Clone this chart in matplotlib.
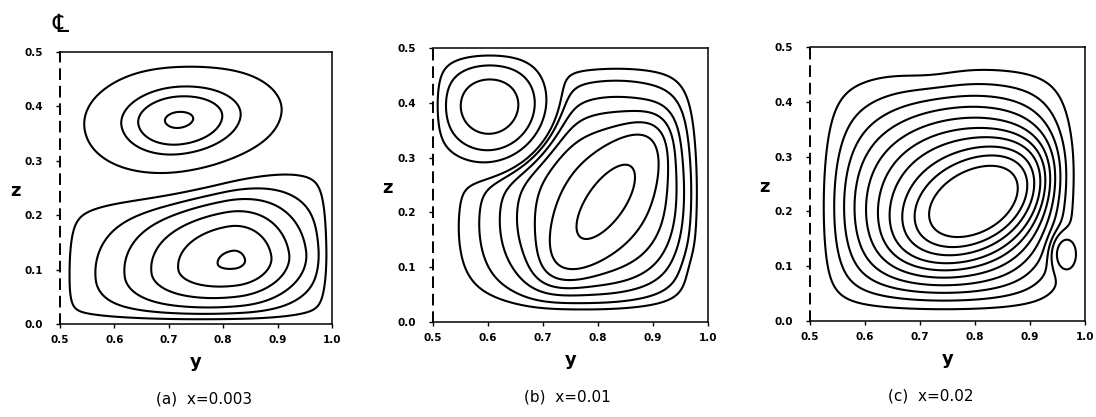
import numpy as np
import matplotlib
matplotlib.use("Agg")
import matplotlib.pyplot as plt

# ---------------- data ----------------
y_ticks = [0.5, 0.6, 0.7, 0.8, 0.9, 1.0]
z_ticks = [0.0, 0.1, 0.2, 0.3, 0.4, 0.5]
captions = ["(a)  x=0.003", "(b)  x=0.01", "(c)  x=0.02"]

# Panel (a): vortex cells (centre, strength, orientation, spreads, profile power)
a_yc = [0.72, 0.82]
a_zc = [0.372, 0.115]
a_amp = [1.0, -1.0]
a_ang = [5.0, 8.0]
a_sa_lo = [0.155, 0.21]
a_sa_hi = [0.17, 0.14]
a_sb_lo = [0.105, 0.09]
a_sb_hi = [0.09, 0.14]
a_pow = [2.0, 1.5]
a_wall = [0.02, 0.02, 0.02, 0.02]          # left, right, bottom, top
# streamlines: where each drawn contour crosses a probe line
a_ring_y = [0.693, 0.644, 0.613, 0.545, 0.79, 0.718, 0.669, 0.62, 0.567, 0.518]
a_ring_z = [0.375, 0.375, 0.375, 0.375, 0.115, 0.115, 0.115, 0.115, 0.115, 0.115]

# Panel (b)
b_yc = [0.815, 0.815, 0.605, 0.99]
b_zc = [0.22, 0.22, 0.395, 0.09]
b_amp = [1.0, 1.0, -3.0, -0.1]
b_ang = [55.0, 55.0, 0.0, 0.0]
b_sa_lo = [0.12, 0.24, 0.085, 0.03]
b_sa_hi = [0.12, 0.22, 0.085, 0.03]
b_sb_lo = [0.045, 0.20, 0.085, 0.04]
b_sb_hi = [0.045, 0.20, 0.085, 0.04]
b_pow = [2.0, 2.0, 2.6, 2.0]
b_wall = [0.02, 0.05, 0.05, 0.04]
b_ring_y = [0.655, 0.685, 0.706, 0.766, 0.72, 0.686, 0.653, 0.622, 0.585, 0.548]
b_ring_z = [0.40, 0.40, 0.40, 0.20, 0.20, 0.20, 0.20, 0.20, 0.20, 0.20]

# Panel (c)
c_yc = [0.815, 0.78, 0.968, 0.72, 0.75]
c_zc = [0.22, 0.23, 0.123, 0.48, 0.25]
c_amp = [0.8, 1.0, -1.6, -0.1, 0.2]
c_ang = [30.0, 15.0, 0.0, 0.0, 0.0]
c_sa_lo = [0.13, 0.24, 0.022, 0.06, 0.42]
c_sa_hi = [0.13, 0.24, 0.022, 0.06, 0.42]
c_sb_lo = [0.07, 0.19, 0.032, 0.05, 0.35]
c_sb_hi = [0.07, 0.19, 0.032, 0.05, 0.35]
c_pow = [2.0, 2.0, 2.0, 2.0, 4.0]
c_wall = [0.06, 0.08, 0.05, 0.08]
c_ring_y = [0.719, 0.693, 0.670, 0.646, 0.624, 0.602, 0.581, 0.562, 0.544, 0.525, 0.949]
c_ring_z = [0.21, 0.21, 0.21, 0.21, 0.21, 0.21, 0.21, 0.21, 0.21, 0.21, 0.123]


def stream(Y, Z, yc, zc, amp, ang, sa_lo, sa_hi, sb_lo, sb_hi, pw, wall):
    Y = np.asarray(Y, float)
    Z = np.asarray(Z, float)
    psi = np.zeros(np.broadcast(Y, Z).shape)
    for i in range(len(yc)):
        t = np.radians(ang[i])
        dy, dz = Y - yc[i], Z - zc[i]
        xi = dy * np.cos(t) + dz * np.sin(t)
        eta = -dy * np.sin(t) + dz * np.cos(t)
        sa = np.where(xi < 0, sa_lo[i], sa_hi[i])
        sb = np.where(eta < 0, sb_lo[i], sb_hi[i])
        r2 = (xi / sa) ** 2 + (eta / sb) ** 2
        psi = psi + amp[i] * np.exp(-r2 ** (pw[i] / 2.0))
    w = (np.tanh((Y - 0.5) / wall[0]) * np.tanh((1.0 - Y) / wall[1])
         * np.tanh(Z / wall[2]) * np.tanh((0.5 - Z) / wall[3]))
    return psi * w


panels = [
    (a_yc, a_zc, a_amp, a_ang, a_sa_lo, a_sa_hi, a_sb_lo, a_sb_hi, a_pow, a_wall, a_ring_y, a_ring_z),
    (b_yc, b_zc, b_amp, b_ang, b_sa_lo, b_sa_hi, b_sb_lo, b_sb_hi, b_pow, b_wall, b_ring_y, b_ring_z),
    (c_yc, c_zc, c_amp, c_ang, c_sa_lo, c_sa_hi, c_sb_lo, c_sb_hi, c_pow, c_wall, c_ring_y, c_ring_z),
]

W, H = 1096, 417
fig = plt.figure(figsize=(W / 100, H / 100), dpi=100)
boxes = [(60, 52, 272, 272), (433, 48, 275, 274), (810, 47, 275, 274)]

gy = np.linspace(0.5, 1.0, 601)
gz = np.linspace(0.0, 0.5, 601)
GY, GZ = np.meshgrid(gy, gz)

tick_font = dict(family=["Liberation Sans Narrow", "DejaVu Sans"], weight="bold", size=7.5)

for k, (p, box) in enumerate(zip(panels, boxes)):
    x0, y0, w, h = box
    ax = fig.add_axes([x0 / W, 1 - (y0 + h) / H, w / W, h / H])
    params = p[:10]
    psi = stream(GY, GZ, *params)
    lev = stream(np.array(p[10]), np.array(p[11]), *params)
    lev = np.unique(np.round(lev, 7))
    ax.contour(GY, GZ, psi, levels=lev, colors="k", linewidths=1.5, linestyles="solid")
    ax.set_xlim(0.5, 1.0)
    ax.set_ylim(0.0, 0.5)
    ax.set_xticks(y_ticks)
    ax.set_yticks(z_ticks)
    ax.set_xticklabels([f"{v:.1f}" for v in y_ticks], fontdict=tick_font)
    ax.set_yticklabels([f"{v:.1f}" for v in z_ticks], fontdict=tick_font)
    ax.tick_params(direction="out", length=3, width=1.0, colors="k")
    ax.tick_params(axis="x", pad=5)
    ax.tick_params(axis="y", pad=9)
    for s in ["top", "right", "bottom"]:
        ax.spines[s].set_linewidth(1.1)
    ax.spines["left"].set_linewidth(1.4)
    ax.spines["left"].set_linestyle((0, (5, 4)))
    ax.text(-0.165, 0.49, "z", transform=ax.transAxes, fontsize=13, fontweight="bold",
            ha="center", va="center")
    ax.text(0.5, -0.14, "y", transform=ax.transAxes, fontsize=13, fontweight="bold",
            ha="center", va="center")
    ax.text(0.5 + (0.03 if k == 0 else (-0.01 if k == 1 else -0.06)), -0.275, captions[k],
            transform=ax.transAxes, fontsize=11, ha="center", va="center")
    if k == 0:
        ax.text(0.0, 1.10, "\u2104", transform=ax.transAxes, fontsize=18,
                family=["DejaVu Sans", "Noto Sans CJK KR"], ha="center", va="center")

fig.savefig("out.png", dpi=100)
